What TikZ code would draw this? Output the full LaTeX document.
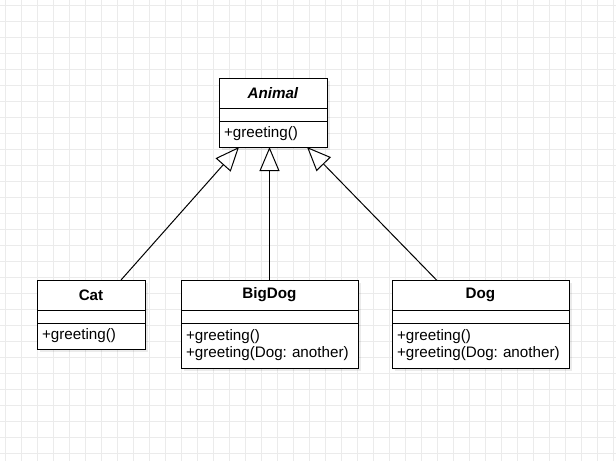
\documentclass[tikz,border=0pt]{standalone}
\usepackage{fontspec}
\setmainfont{Liberation Sans}
\usetikzlibrary{positioning,arrows.meta,shadows}
\tikzset{
  grid line/.style={draw=black!8, line width=1pt},
  classpart/.style={draw, fill=white, line width=1pt, outer sep=0pt, inner sep=0pt,
    minimum width=#1, font=\fontsize{15.2}{17}\selectfont\frenchspacing,
    drop shadow={shadow xshift=3pt, shadow yshift=-3pt, opacity=0.08, fill=black}},
  classname/.style={classpart=#1, minimum height=30pt, font=\fontsize{15.2}{17}\selectfont\bfseries},
  classattr/.style={classpart=#1, minimum height=13pt},
  classops/.style={classpart=#1, minimum height=26pt, inner xsep=5pt, text width=#1-10pt, align=left},
  inherits/.style={draw, line width=1pt, -{Triangle[open, length=24pt, width=20pt]}}
}
\begin{document}
\begin{tikzpicture}[x=1pt, y=-1pt]
            \path[use as bounding box, fill=white] (0,0) rectangle (616,461);
            \foreach \gx in {5,21,...,613} \draw[grid line] (\gx,0) -- (\gx,461);
            \foreach \gy in {5,21,...,453} \draw[grid line] (0,\gy) -- (616,\gy);
            \node[classname=108pt] (animal) at (273,93) {\textit{Animal}};
            \node[classattr=108pt, below=0pt of animal] (animal-attr) {};
            \node[classops=108pt, below=0pt of animal-attr] (animal-ops) {+greeting()};
            \node[classname=108pt] (cat) at (91,295) {Cat};
            \node[classattr=108pt, below=0pt of cat] (cat-attr) {};
            \node[classops=108pt, below=0pt of cat-attr] (cat-ops) {+greeting()};
            \node[classname=177pt] (bigdog) at (269.5,295) {BigDog};
            \node[classattr=177pt, below=0pt of bigdog] (bigdog-attr) {};
            \node[classops=177pt, minimum height=45pt, below=0pt of bigdog-attr] (bigdog-ops) {+greeting()\\+greeting(Dog: another)};
            \node[classname=177pt] (dog) at (480.5,295) {Dog};
            \node[classattr=177pt, below=0pt of dog] (dog-attr) {};
            \node[classops=177pt, minimum height=45pt, below=0pt of dog-attr] (dog-ops) {+greeting()\\+greeting(Dog: another)};
            \draw[inherits] ([xshift=30pt]cat.north) -- ([xshift=-34pt]animal-ops.south);
            \draw[inherits] (bigdog.north) -- (bigdog.north |- animal-ops.south);
            \draw[inherits] ([xshift=-44pt]dog.north) -- ([xshift=34pt]animal-ops.south);
        \end{tikzpicture}
\end{document}
